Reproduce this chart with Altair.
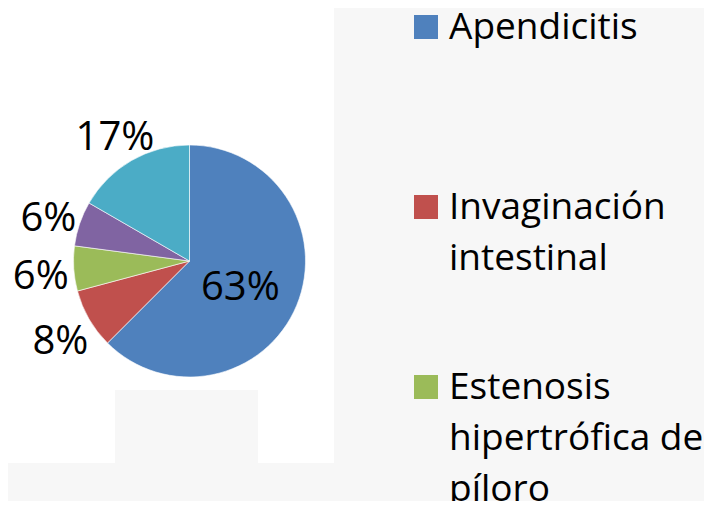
import altair as alt
import pandas as pd

# Data (slice angles match 30/4/3/3/8 of 48 cases)
categories = [
    "Apendicitis",
    "Invaginación intestinal",
    "Estenosis hipertrófica de píloro",
    "Categoría 4",
    "Categoría 5",
]
counts = [30, 4, 3, 3, 8]
colors = ["#4F81BD", "#C0504D", "#9BBB59", "#8064A2", "#4BACC6"]

# Legend entries visible in the reference (the rest are cut off)
legend_categories = categories[:3]
legend_labels = ["Apendicitis", "Invaginación\nintestinal", "Estenosis\nhipertrófica de\npíloro"]

df = pd.DataFrame({"causa": categories, "casos": counts, "orden": list(range(len(categories)))})
leg_df = pd.DataFrame({"causa": legend_categories, "etiqueta": legend_labels})

CX, CY, R = 181.5, 253, 116
FONT = "Open Sans"
BG = "#f7f7f7"

color_scale = alt.Scale(domain=categories, range=colors)

# faint background panels seen behind the reference chart
bg_right = alt.Chart(df).mark_rect(color=BG).encode(
    x=alt.value(326), x2=alt.value(696), y=alt.value(0), y2=alt.value(493))
bg_bottom = alt.Chart(df).mark_rect(color=BG).encode(
    x=alt.value(0), x2=alt.value(696), y=alt.value(455), y2=alt.value(493))
bg_mid = alt.Chart(df).mark_rect(color=BG).encode(
    x=alt.value(107), x2=alt.value(250), y=alt.value(382), y2=alt.value(455))

arc = alt.Chart(df).mark_arc(radius=R, stroke="white", strokeWidth=0.6).encode(
    theta=alt.Theta("casos:Q", stack=True),
    order=alt.Order("orden:Q"),
    color=alt.Color("causa:N", scale=color_scale, legend=None),
    x=alt.value(CX),
    y=alt.value(CY),
)

labels = (
    alt.Chart(df)
    .transform_joinaggregate(total="sum(casos)")
    .transform_window(acum="sum(casos)", sort=[alt.SortField("orden", order="ascending")], frame=[None, 0])
    .transform_calculate(
        mid="datum.acum - datum.casos / 2",
        pct="format(datum.casos / datum.total, '.0%')",
        r="datum.casos / datum.total > 0.5 ? 55 : 149",
    )
    .mark_text(font=FONT, fontSize=40, align="center", baseline="middle", dy=6, color="black")
    .encode(
        theta=alt.Theta("mid:Q", stack=None),
        radius=alt.Radius("r:Q", scale=None),
        text="pct:N",
        x=alt.value(CX),
        y=alt.value(CY),
    )
)

leg_y = alt.Y(
    "causa:N",
    sort=legend_categories,
    scale=alt.Scale(domain=legend_categories, range=[19, 379], padding=0),
    axis=None,
)

squares = alt.Chart(leg_df).mark_square(size=576, opacity=1).encode(
    x=alt.value(418),
    y=leg_y,
    color=alt.Color("causa:N", scale=color_scale, legend=None),
)

texts = alt.Chart(leg_df).mark_text(
    font=FONT, fontSize=37, align="left", baseline="alphabetic", dy=12,
    lineBreak="\n", lineHeight=51, color="black"
).encode(
    x=alt.value(441),
    y=leg_y,
    text="etiqueta:N",
)

chart = (
    alt.layer(bg_right, bg_bottom, bg_mid, arc, labels, squares, texts)
    .properties(width=696, height=493, autosize=alt.AutoSizeParams(type="none"), padding=0)
    .configure_view(stroke=None)
)

chart.save("out.html", embed_options={"renderer": "svg", "actions": False})
